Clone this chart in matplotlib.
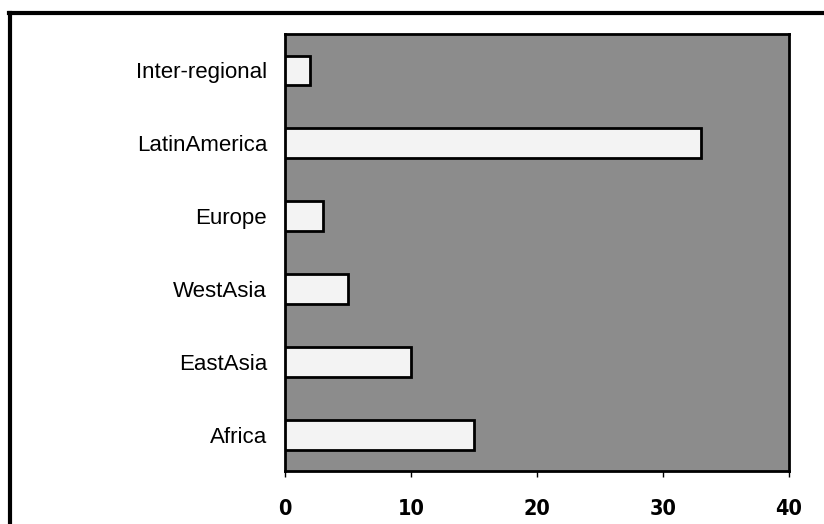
import matplotlib
matplotlib.use('Agg')
import matplotlib.pyplot as plt
from matplotlib.lines import Line2D

# Data
regions = ['Africa', 'EastAsia', 'WestAsia', 'Europe', 'LatinAmerica', 'Inter-regional']
counts = [15, 10, 5, 3, 33, 2]
xticks = [0, 10, 20, 30, 40]

fig = plt.figure(figsize=(8.24, 5.24), dpi=100)
fig.patch.set_facecolor('white')

# outer frame (top and left edges only visible)
fig.add_artist(Line2D([0.011, 1.0], [0.975, 0.975], color='black', lw=3, transform=fig.transFigure))
fig.add_artist(Line2D([0.012, 0.012], [0.0, 0.975], color='black', lw=3, transform=fig.transFigure))

ax = fig.add_axes([0.346, 0.101, 0.6115, 0.834])
ax.set_facecolor('#8c8c8c')
ax.barh(range(len(regions)), counts, height=0.41, color='#f3f3f3',
        edgecolor='black', linewidth=2, zorder=3)

ax.set_xlim(0, 40)
ax.set_ylim(-0.5, len(regions) - 0.5)
ax.set_xticks(xticks)
ax.set_xticklabels([str(t) for t in xticks], fontsize=15.5, fontweight='bold',
                   family='DejaVu Sans', fontstretch='condensed')
ax.set_yticks(range(len(regions)))
ax.set_yticklabels(regions, fontsize=16, family=['Liberation Sans', 'DejaVu Sans'])
ax.tick_params(axis='y', length=0, pad=13)
ax.tick_params(axis='x', length=4, width=1, direction='out', pad=16)
for s in ax.spines.values():
    s.set_linewidth(2)

plt.savefig('out.png', dpi=100)
